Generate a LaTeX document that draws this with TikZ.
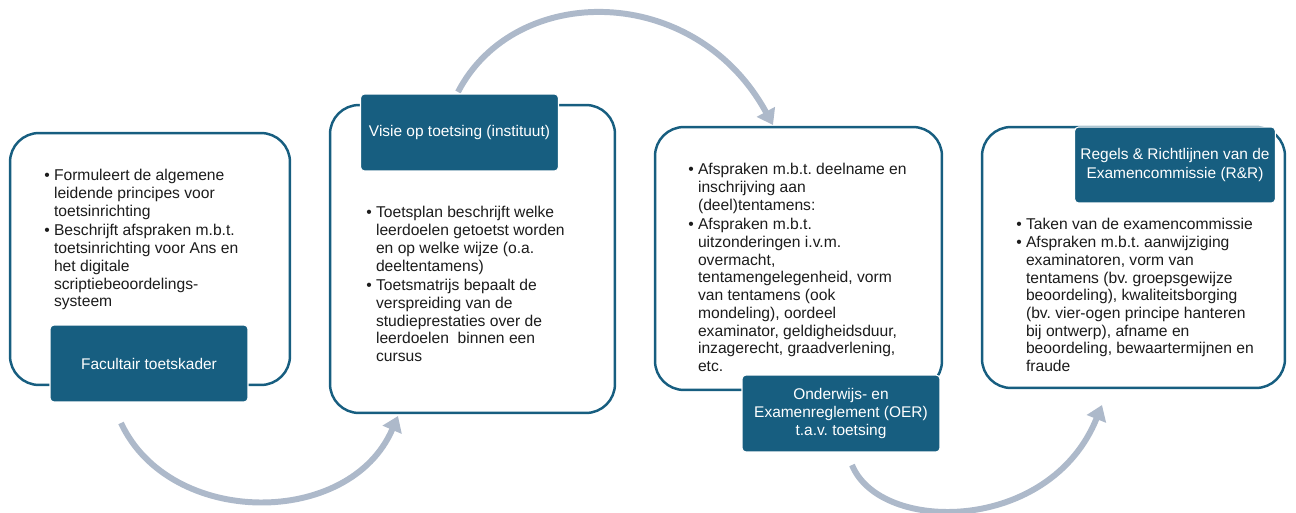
\documentclass[tikz,border=0pt]{standalone}
\usepackage{fontspec}
\setmainfont{Liberation Sans}
\usetikzlibrary{arrows.meta,positioning}
\definecolor{oerblue}{RGB}{23,94,128}
\definecolor{linkgray}{RGB}{173,185,202}
\definecolor{inktext}{RGB}{28,28,28}
\newcommand{\bul}[1]{\textbullet\hspace{2.4pt}\begin{tabular}[t]{@{}l@{}}#1\end{tabular}}
\tikzset{
stage/.style = {draw=oerblue, line width=1.4pt, fill=white, rectangle, rounded corners=0.58cm},
titlebox/.style = {draw=white, line width=0.6pt, fill=oerblue, rectangle, rounded corners=0.08cm, text=white, align=center, minimum width=3.96cm, minimum height=1.54cm, font=\fontsize{8.8}{10.5}\selectfont},
bullets/.style = {anchor=north west, inner sep=0pt, align=left, text=inktext, font=\fontsize{8.9}{10.1}\selectfont},
flow/.style = {draw=linkgray, line width=3.4pt, -{Triangle[width=0.4cm,length=0.3cm]}}
}
\frenchspacing

\begin{document}
\begin{tikzpicture}[x=0.02cm, y=-0.02cm]
  \useasboundingbox (0,0) rectangle (1296,513);

  \coordinate (s1) at (121,423);
  \coordinate (e1) at (398,416);
  \coordinate (s2) at (458,92);
  \coordinate (e2) at (773,125);
  \coordinate (s3) at (852,465);
  \coordinate (e3) at (1102,405);

  \draw [flow] (s1) .. controls (170,528) and (350,528) .. (e1);
  \draw [flow] (s2) .. controls (515,-18) and (695,-18) .. (e2);
  \draw [flow] (s3) .. controls (880,534) and (1050,534) .. (e3);

  \node [stage, minimum width=5.6cm, minimum height=5.04cm]   (box1) at (150,259)     {};
  \node [stage, minimum width=5.7cm, minimum height=6.16cm]   (box2) at (472.5,259)   {};
  \node [stage, minimum width=5.74cm, minimum height=5.26cm]  (box3) at (798.5,258.5) {};
  \node [stage, minimum width=6.06cm, minimum height=5.22cm]  (box4) at (1133.5,257.5) {};

  \node [titlebox]                        (title1) at (149,363.5)  {Facultair toetskader};
  \node [titlebox]                        (title2) at (459.5,132.5) {Visie op toetsing (instituut)};
  \node [titlebox]                        (title3) at (841,413.5)  {Onderwijs- en\\Examenreglement (OER)\\t.a.v. toetsing};
  \node [titlebox, minimum height=1.52cm] (title4) at (1175,165)   {Regels \& Richtlijnen van de\\Examencommissie (R\&R)};

  \node [bullets] (list1) at (44,168) {%
    \bul{Formuleert de algemene\\leidende principes voor\\toetsinrichting}\\
    \bul{Beschrijft afspraken m.b.t.\\toetsinrichting voor Ans en\\het digitale\\scriptiebeoordelings-\\systeem}};
  \node [bullets] (list2) at (366,205) {%
    \bul{Toetsplan beschrijft welke\\leerdoelen getoetst worden\\en op welke wijze (o.a.\\deeltentamens)}\\
    \bul{Toetsmatrijs bepaalt de\\verspreiding van de\\studieprestaties over de\\leerdoelen\ \ binnen een\\cursus}};
  \node [bullets] (list3) at (688,162) {%
    \bul{Afspraken m.b.t. deelname en\\inschrijving aan\\(deel)tentamens:}\\
    \bul{Afspraken m.b.t.\\uitzonderingen i.v.m.\\overmacht,\\tentamengelegenheid, vorm\\van tentamens (ook\\mondeling), oordeel\\examinator, geldigheidsduur,\\inzagerecht, graadverlening,\\etc.}};
  \node [bullets] (list4) at (1016,217) {%
    \bul{Taken van de examencommissie}\\
    \bul{Afspraken m.b.t. aanwijziging\\examinatoren, vorm van\\tentamens (bv. groepsgewijze\\beoordeling), kwaliteitsborging\\(bv. vier-ogen principe hanteren\\bij ontwerp), afname en\\beoordeling, bewaartermijnen en\\fraude}};
\end{tikzpicture}
\end{document}
